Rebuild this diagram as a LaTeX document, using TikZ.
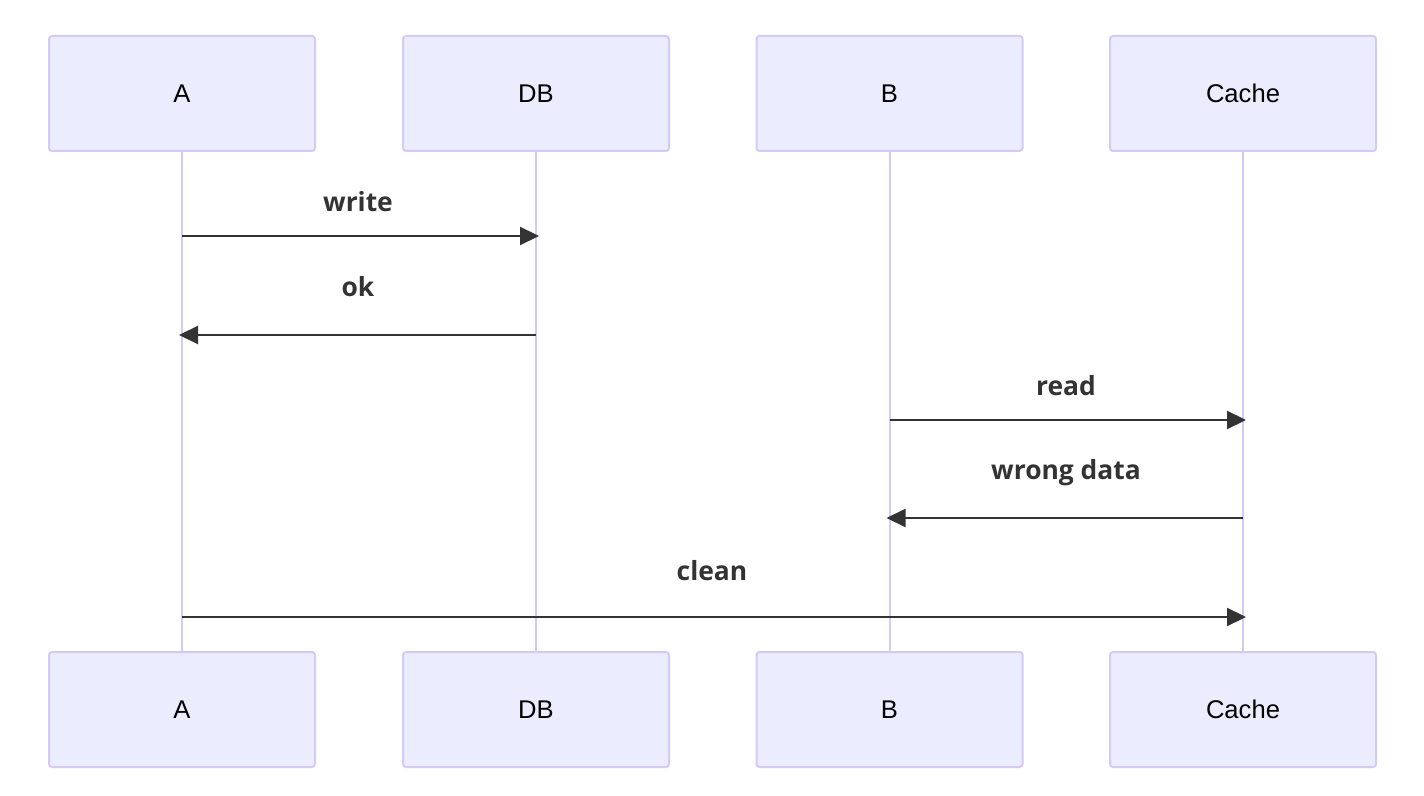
\documentclass[tikz,border=0pt]{standalone}
\usepackage{fontspec}
\setmainfont{Liberation Sans}
\newfontfamily\msgfont{Open Sans}
\usetikzlibrary{arrows.meta}
\definecolor{actorfill}{HTML}{ECECFF}
\definecolor{actorline}{HTML}{D4CAF4}
\definecolor{signal}{HTML}{333333}
\tikzset{
  actor/.style={draw=actorline, fill=actorfill, line width=1pt, rounded corners=1.5pt,
    minimum width=133pt, minimum height=57.5pt, inner sep=0pt,
    font=\fontsize{12.8}{15}\selectfont, text=black},
  lifeline/.style={draw=actorline, line width=1pt},
  msg/.style={draw=signal, line width=1.1pt, -{Triangle[length=9.5pt,width=9pt]}},
  msglabel/.style={anchor=base, inner sep=0pt, text=signal,
    font=\msgfont\bfseries\fontsize{13.2}{15}\selectfont}
}
\begin{document}
\begin{tikzpicture}[x=0.5pt, y=-0.5pt]
\useasboundingbox[fill=white] (0,0) rectangle (1424,796);

% participants, top row
\node[actor] (tA)  at (182,93.5)    {A};
\node[actor] (tDB) at (536,93.5)    {DB};
\node[actor] (tB)  at (889.5,93.5)  {B};
\node[actor] (tC)  at (1243,93.5)   {Cache};
% participants, bottom row
\node[actor] (bA)  at (182,709.5)   {A};
\node[actor] (bDB) at (536,709.5)   {DB};
\node[actor] (bB)  at (889.5,709.5) {B};
\node[actor] (bC)  at (1243,709.5)  {Cache};

% lifelines
\draw[lifeline] (tA.south)  -- (bA.north);
\draw[lifeline] (tDB.south) -- (bDB.north);
\draw[lifeline] (tB.south)  -- (bB.north);
\draw[lifeline] (tC.south)  -- (bC.north);

% message rows
\coordinate (m1) at (0,236);
\coordinate (m2) at (0,335);
\coordinate (m3) at (0,420);
\coordinate (m4) at (0,518);
\coordinate (m5) at (0,617);

\draw[msg] (tA |- m1) -- ([xshift=1.5pt]tDB |- m1);
\draw[msg] (tDB |- m2) -- ([xshift=-1.5pt]tA |- m2);
\draw[msg] (tB |- m3) -- ([xshift=1.5pt]tC |- m3);
\draw[msg] (tC |- m4) -- ([xshift=-1.5pt]tB |- m4);
\draw[msg] (tA |- m5) -- ([xshift=1.5pt]tC |- m5);

% message labels
\node[msglabel] (l1) at (358,212) {write};
\node[msglabel] (l2) at (358,297) {ok};
\node[msglabel] (l3) at (1066,396) {read};
\node[msglabel] (l4) at (1066,480) {wrong data};
\node[msglabel] (l5) at (712,580) {clean};
\end{tikzpicture}
\end{document}
